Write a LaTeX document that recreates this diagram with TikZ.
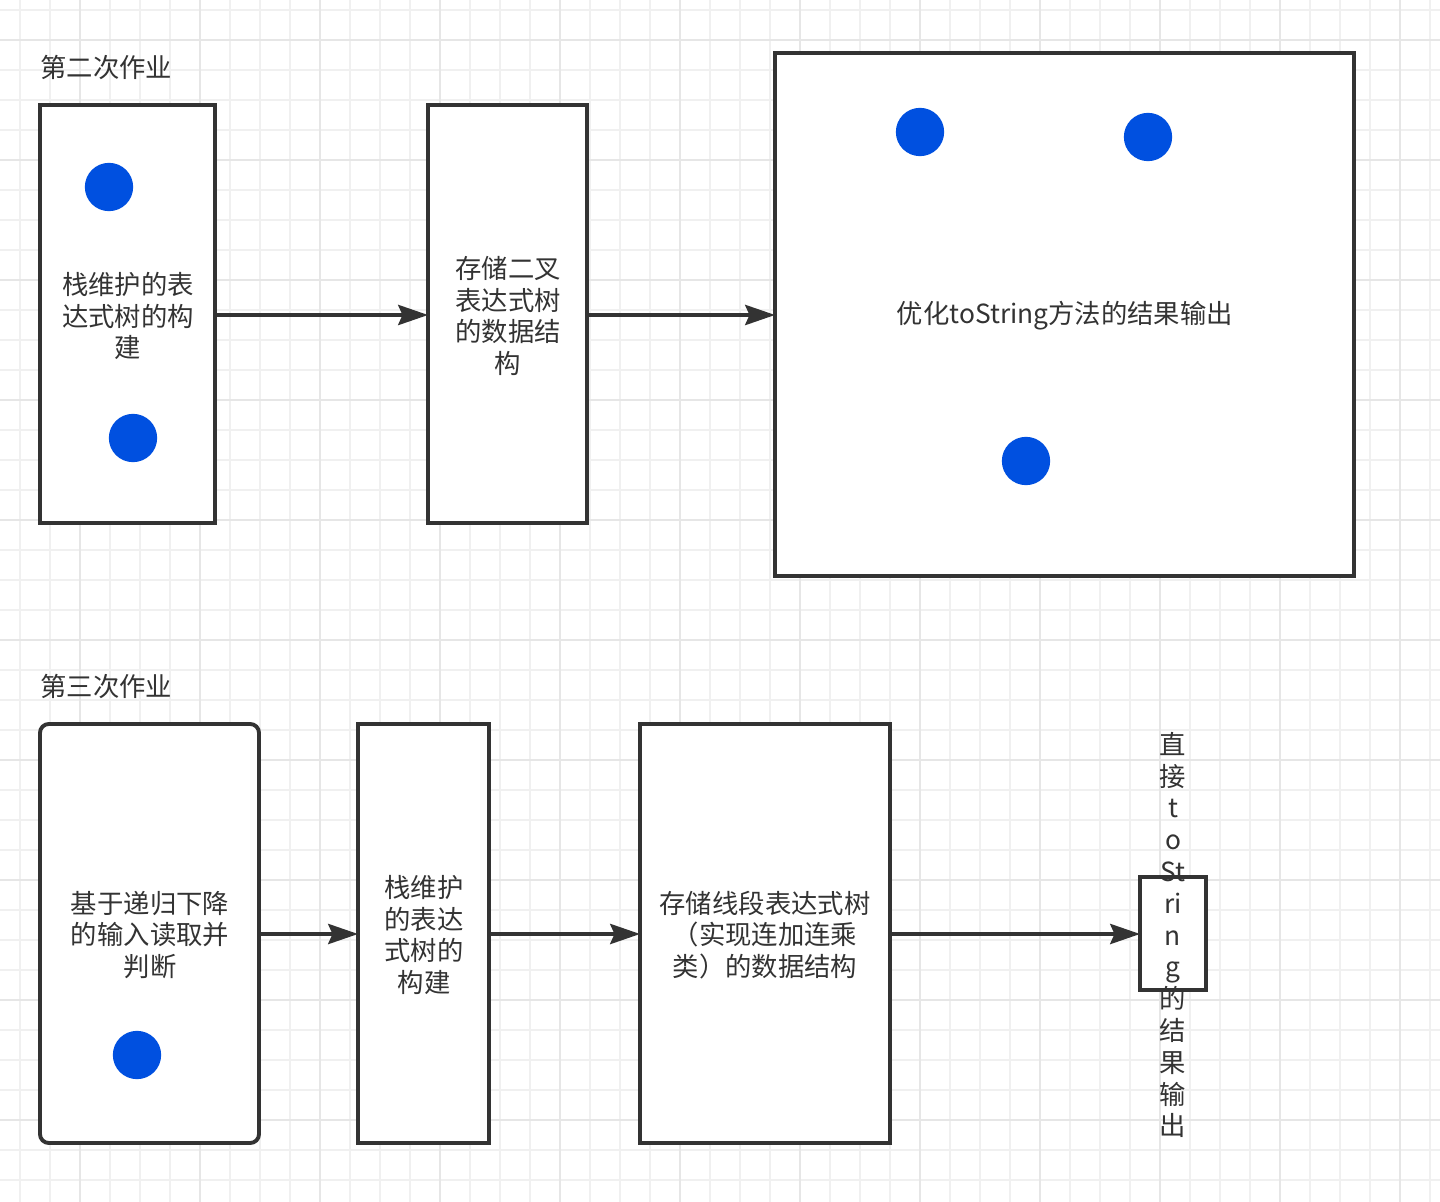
\documentclass[tikz,border=0pt]{standalone}
\usepackage{fontspec}
\newfontfamily\cjk{Noto Sans CJK SC}
\usetikzlibrary{arrows.meta}
\definecolor{ink}{HTML}{333333}
\definecolor{dotblue}{HTML}{0050E0}
\definecolor{gridminor}{HTML}{F0F0F0}
\definecolor{gridmajor}{HTML}{E6E6E6}
\tikzset{
  box/.style={draw=ink, line width=2.2pt, fill=white},
  txt/.style={text=ink, align=center, font=\cjk\fontsize{15pt}{18.1pt}\selectfont, inner sep=0pt},
  dot/.style={circle, fill=dotblue, minimum size=27.5pt, inner sep=0pt},
  flow/.style={draw=ink, line width=2pt, -{Stealth[length=17pt, width=11.5pt, inset=2.5pt]}},
}
\begin{document}
\begin{tikzpicture}[x=0.02cm, y=-0.02cm]
\useasboundingbox (0,0) rectangle (1440,1202);
\fill[white] (0,0) rectangle (1440,1202);
% grid
\foreach \i in {0,...,47} {\draw[gridminor, line width=1pt] (20+30*\i,0) -- (20+30*\i,1202);}
\foreach \i in {0,...,39} {\draw[gridminor, line width=1pt] (0,10+30*\i) -- (1440,10+30*\i);}
\foreach \i in {0,...,11} {\draw[gridmajor, line width=1.1pt] (80+120*\i,0) -- (80+120*\i,1202);}
\foreach \i in {0,...,9} {\draw[gridmajor, line width=1.1pt] (0,40+120*\i) -- (1440,40+120*\i);}

% titles
\node[txt, anchor=west] (t2) at (40,67) {第二次作业};
\node[txt, anchor=west] (t3) at (40,686) {第三次作业};

% row 1
\draw[box] (40,105) rectangle (215,523);
\coordinate (b1w) at (40,315); \coordinate (b1e) at (215,315);
\node[txt] (b1) at (128,316) {栈维护的表\\达式树的构\\建};
\node[dot] (d1) at (109,187) {};
\node[dot] (d2) at (133,438) {};

\draw[box] (428,105) rectangle (587,523);
\coordinate (b2w) at (428,315); \coordinate (b2e) at (587,315);
\node[txt] (b2) at (508,316) {存储二叉\\表达式树\\的数据结\\构};

\draw[box] (775,53) rectangle (1354,576);
\coordinate (b3w) at (775,315);
\node[txt] (b3) at (1065,316) {优化toString方法的结果输出};
\node[dot] (d3) at (920,132) {};
\node[dot] (d4) at (1148,137) {};
\node[dot] (d5) at (1026,461) {};

\draw[flow] (b1e) -- (b2w);
\draw[flow] (b2e) -- (b3w);

% row 2
\draw[box, rounded corners=5pt] (40,724) rectangle (259,1143);
\coordinate (b4e) at (259,934);
\node[txt] (b4) at (150,935) {基于递归下降\\的输入读取并\\判断};
\node[dot] (d6) at (137,1055) {};

\draw[box] (358,724) rectangle (489,1143);
\coordinate (b5w) at (358,934); \coordinate (b5e) at (489,934);
\node[txt] (b5) at (424,935) {栈维护\\的表达\\式树的\\构建};

\draw[box] (640,724) rectangle (890,1143);
\coordinate (b6w) at (640,934); \coordinate (b6e) at (890,934);
\node[txt] (b6) at (765,935) {存储线段表达式树\\（实现连加连乘\\类）的数据结构};

\draw[box] (1140,877) rectangle (1206,990);
\coordinate (b7w) at (1140,934);
\node[txt] (b7) at (1173,935) {直\\接\\t\\o\\St\\ri\\n\\g\\的\\结\\果\\输\\出};

\draw[flow] (b4e) -- (b5w);
\draw[flow] (b5e) -- (b6w);
\draw[flow] (b6e) -- (b7w);
\end{tikzpicture}
\end{document}
